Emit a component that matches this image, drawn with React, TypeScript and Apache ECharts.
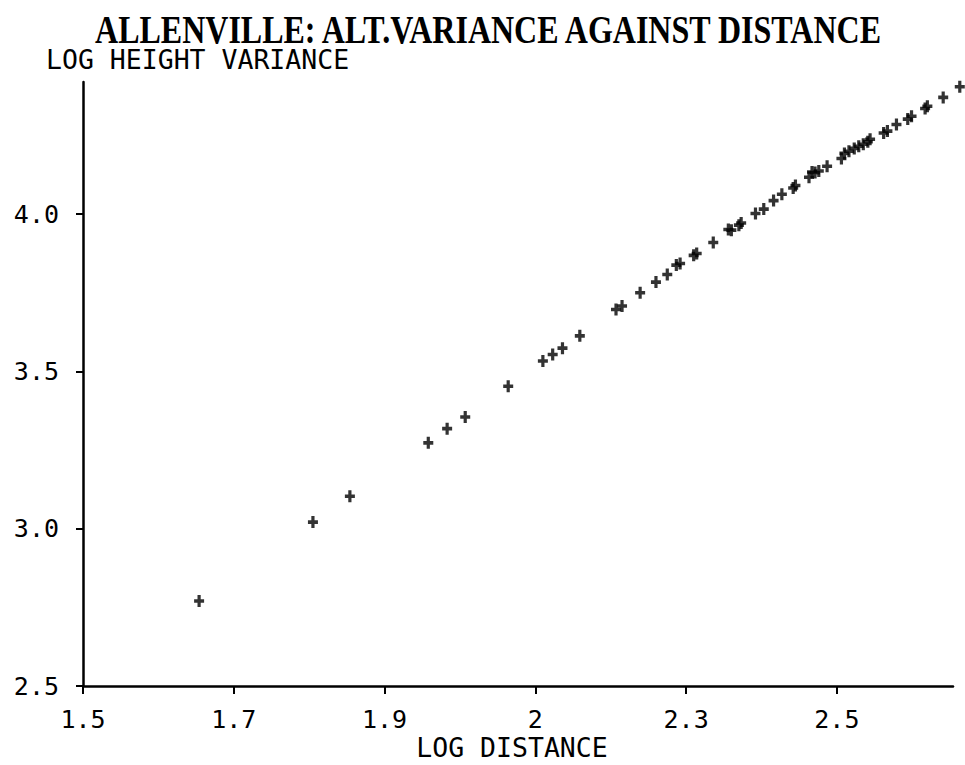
import React, { useEffect, useRef } from "react";
import * as echarts from "echarts";

const titleText = "ALLENVILLE: ALT.VARIANCE AGAINST DISTANCE";
const xAxisName = "LOG DISTANCE";
const yAxisName = "LOG HEIGHT VARIANCE";

const xTickValues = [1.5, 1.7, 1.9, 2.1, 2.3, 2.5];
const xTickLabels = ["1.5", "1.7", "1.9", "2", "2.3", "2.5"];

const logDistance = [
  1.654, 1.805, 1.854, 1.958, 1.983, 2.007, 2.064, 2.11, 2.123, 2.136,
  2.159, 2.207, 2.215, 2.239, 2.26, 2.275, 2.287, 2.292, 2.31, 2.314,
  2.336, 2.356, 2.36, 2.37, 2.373, 2.392, 2.403, 2.416, 2.427, 2.442,
  2.445, 2.463, 2.467, 2.471, 2.476, 2.487, 2.506, 2.51, 2.516, 2.523,
  2.529, 2.535, 2.541, 2.544, 2.562, 2.567, 2.579, 2.594, 2.599, 2.617,
  2.62, 2.641, 2.663,
];
const logHeightVariance = [
  2.77, 3.021, 3.103, 3.273, 3.318, 3.355, 3.453, 3.533, 3.554, 3.574,
  3.613, 3.697, 3.708, 3.75, 3.784, 3.808, 3.838, 3.843, 3.869, 3.875,
  3.91, 3.951, 3.949, 3.965, 3.972, 4.002, 4.016, 4.043, 4.063, 4.083,
  4.091, 4.117, 4.134, 4.132, 4.137, 4.152, 4.177, 4.193, 4.2, 4.209,
  4.216, 4.222, 4.23, 4.238, 4.258, 4.264, 4.285, 4.302, 4.311, 4.336,
  4.343, 4.371, 4.405,
];

const plusPath =
  "path://M3.4,0 L6.6,0 L6.6,3.5 L10,3.5 L10,6.5 L6.6,6.5 L6.6,10 L3.4,10 L3.4,6.5 L0,6.5 L0,3.5 L3.4,3.5 Z";

export default function App() {
  const ref = useRef<HTMLDivElement>(null);
  useEffect(() => {
    document.body.style.margin = "0";
    const chart = echarts.init(ref.current!, null, { renderer: "svg" });
    const data = logDistance.map((x, i) => [x, logHeightVariance[i]]);
    const mono = "DejaVu Sans Mono";
    chart.setOption({
      animation: false,
      backgroundColor: "#ffffff",
      grid: { left: 83, right: 12, top: 82, bottom: 79, containLabel: false },
      xAxis: {
        type: "value",
        min: 1.5,
        max: 2.654,
        interval: 0.2,
        splitLine: { show: false },
        axisLine: { onZero: false, lineStyle: { color: "#000", width: 2.5 } },
        axisTick: { length: 8, lineStyle: { color: "#000", width: 2 } },
        axisLabel: {
          color: "#000",
          fontFamily: mono,
          fontSize: 25,
          margin: 21,
          showMaxLabel: false,
          formatter: (v: number) => {
            const i = xTickValues.findIndex((t) => Math.abs(t - v) < 1e-6);
            return i >= 0 ? xTickLabels[i] : "";
          },
        },
      },
      yAxis: {
        type: "value",
        min: 2.5,
        max: 4.42,
        interval: 0.5,
        splitLine: { show: false },
        axisLine: { onZero: false, lineStyle: { color: "#000", width: 2.5 } },
        axisTick: { length: 7, lineStyle: { color: "#000", width: 2 } },
        axisLabel: {
          color: "#000",
          fontFamily: mono,
          fontSize: 25,
          margin: 24,
          showMaxLabel: false,
          formatter: (v: number) => v.toFixed(1),
        },
      },
      graphic: [
        {
          type: "text",
          x: 488,
          y: 30,
          scaleY: 1.25,
          style: {
            text: titleText,
            fill: "#000",
            font: "bold 32px 'Liberation Serif'",
            textAlign: "center",
            textVerticalAlign: "middle",
          },
        },
        {
          type: "text",
          x: 46,
          y: 59,
          style: {
            text: yAxisName,
            fill: "#000",
            font: "26.5px 'DejaVu Sans Mono'",
            textAlign: "left",
            textVerticalAlign: "middle",
          },
        },
        {
          type: "text",
          x: 512,
          y: 747,
          style: {
            text: xAxisName,
            fill: "#000",
            font: "26.5px 'DejaVu Sans Mono'",
            textAlign: "center",
            textVerticalAlign: "middle",
          },
        },
      ],
      series: [
        {
          type: "scatter",
          data,
          clip: false,
          symbol: plusPath,
          symbolSize: [10, 12],
          itemStyle: { color: "#000" },
        },
      ],
    });
    return () => chart.dispose();
  }, []);
  return <div ref={ref} style={{ width: 965, height: 765 }} />;
}
